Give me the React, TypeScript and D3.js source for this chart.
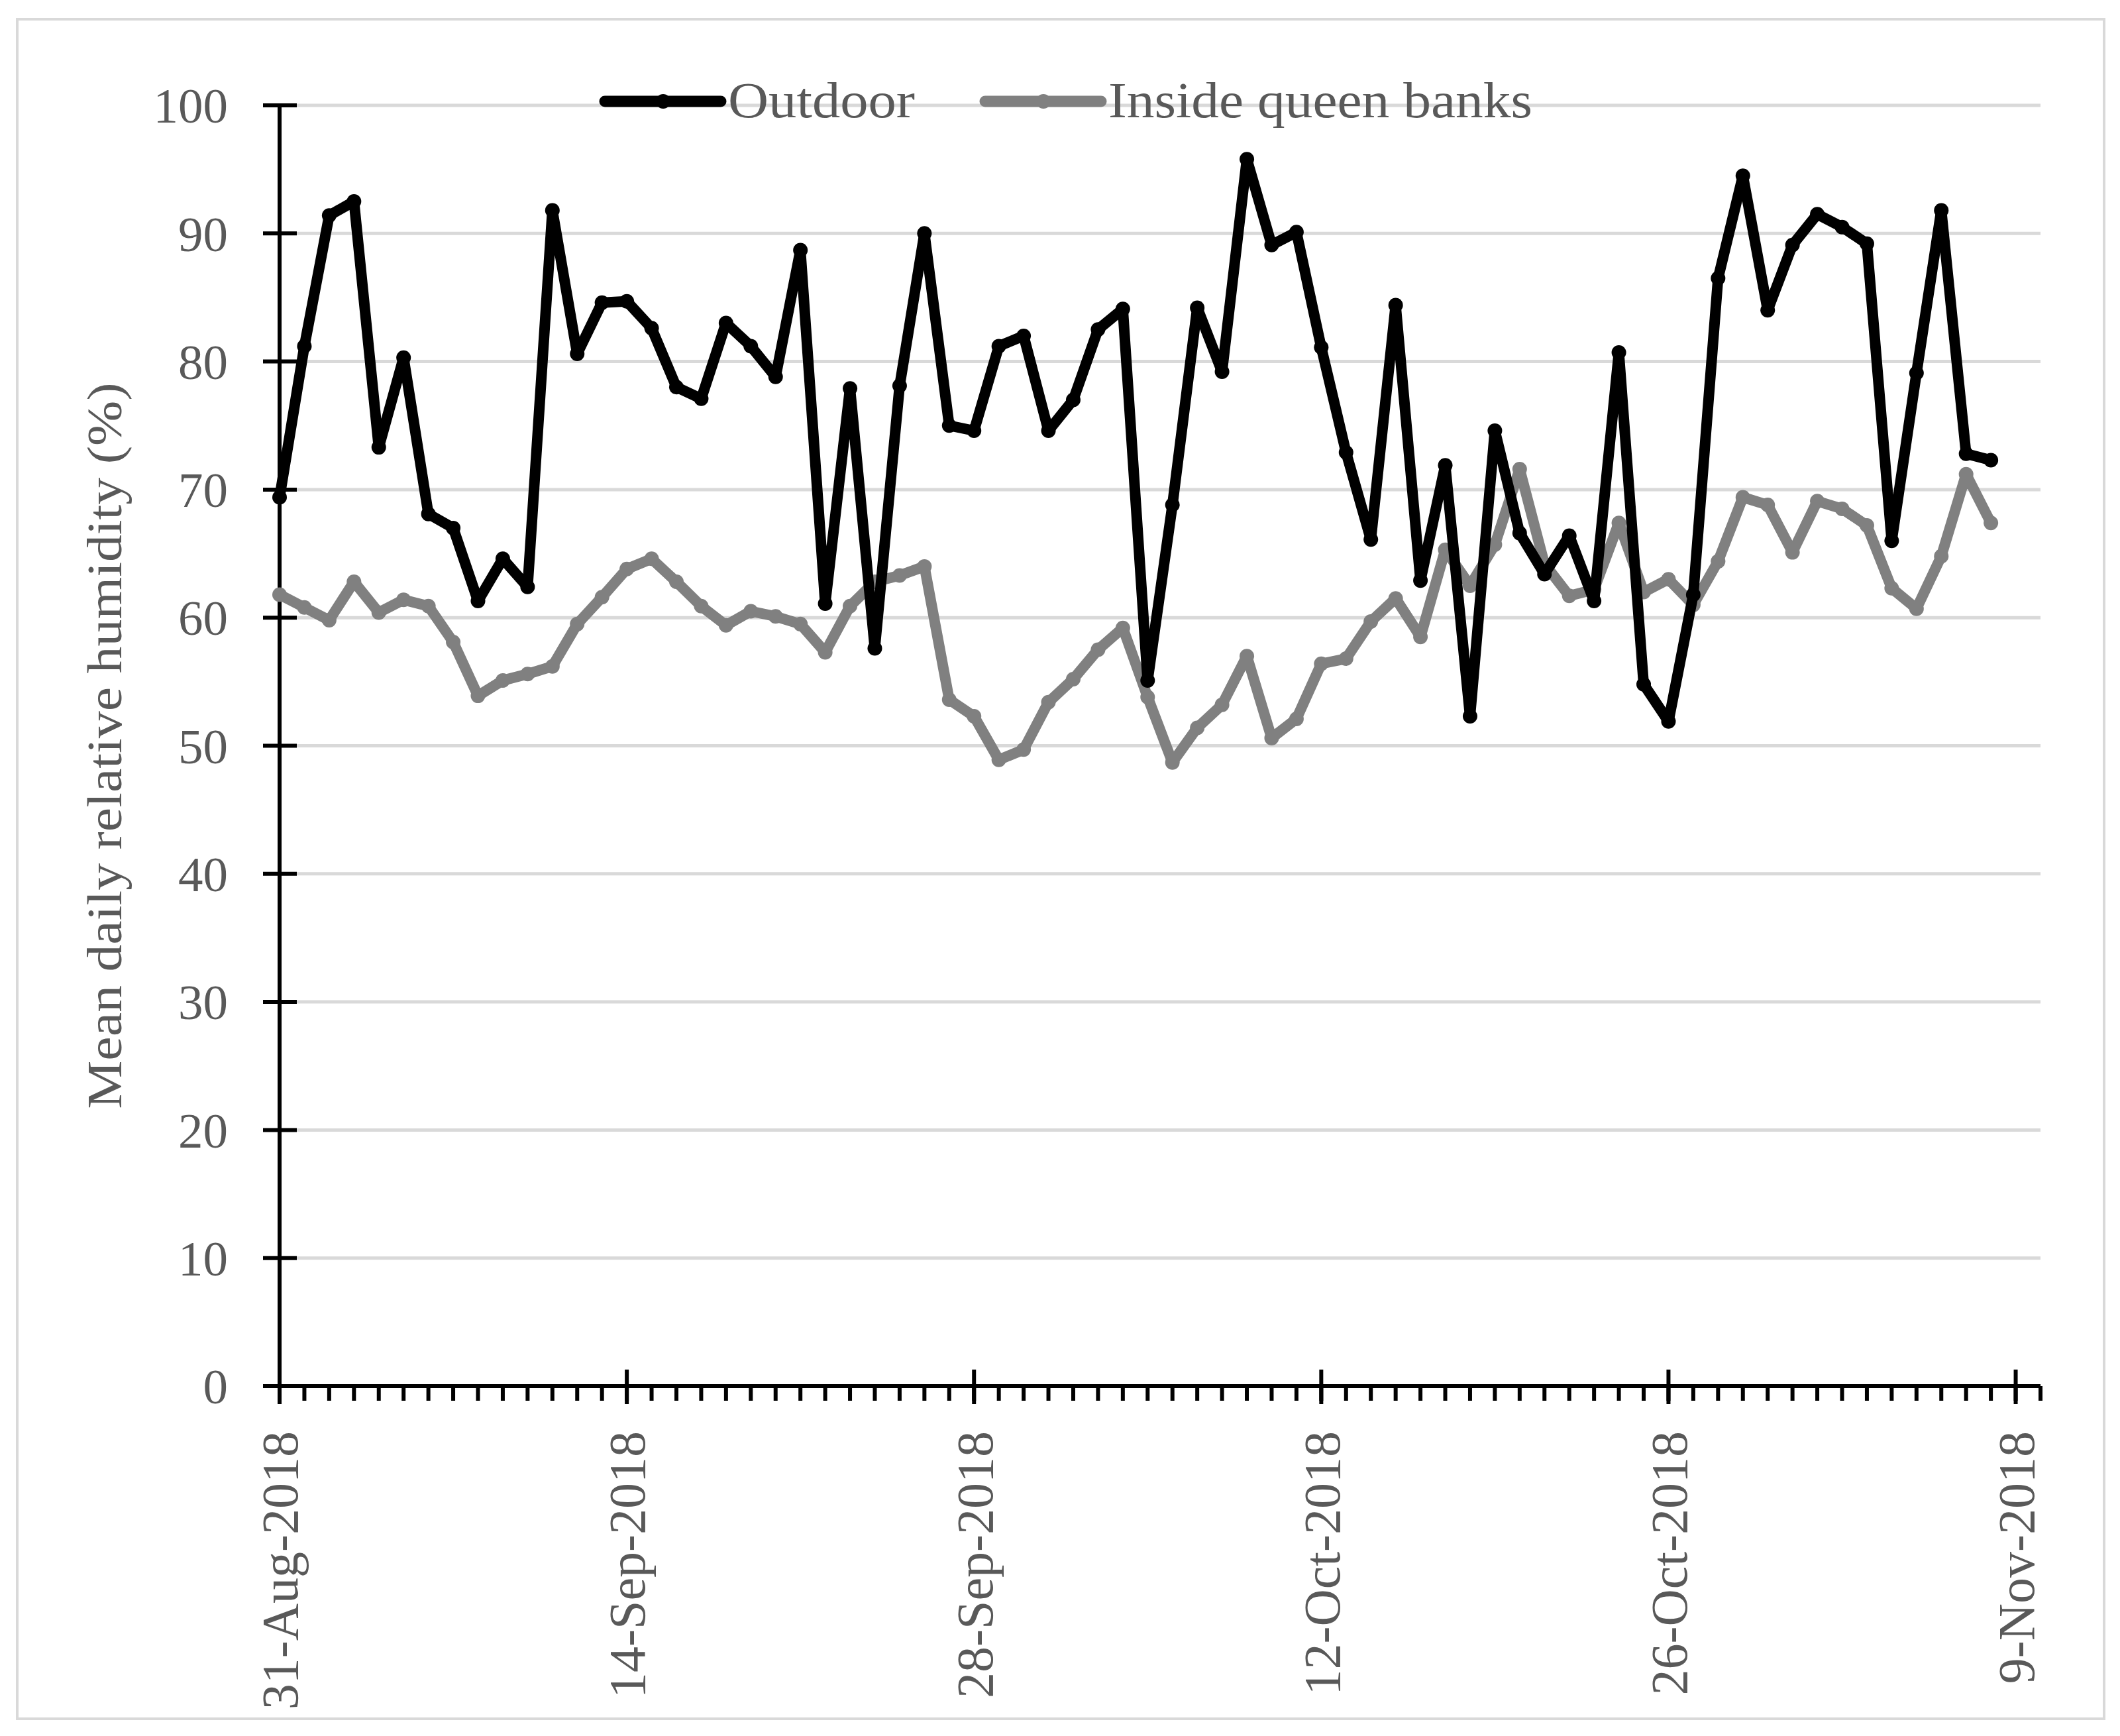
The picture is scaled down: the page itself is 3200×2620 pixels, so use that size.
import React, { useEffect, useMemo } from 'react';
import * as d3 from 'd3';

// daily means, starting 31-Aug-2018
const startDate = '2018-08-31';
const outdoor = [
  69.4, 81.2, 91.4, 92.5, 73.3, 80.3, 68.1, 67.0, 61.3, 64.6,
  62.4, 91.8, 80.6, 84.6, 84.7, 82.6, 78.0, 77.1, 83.0, 81.2,
  78.8, 88.7, 61.1, 77.9, 57.6, 78.1, 90.0, 75.0, 74.6, 81.2,
  82.0, 74.6, 77.0, 82.5, 84.1, 55.1, 68.8, 84.2, 79.2, 95.8,
  89.1, 90.1, 81.1, 72.9, 66.1, 84.4, 62.9, 71.9, 52.3, 74.6,
  66.6, 63.4, 66.4, 61.3, 80.7, 54.8, 51.9, 61.8, 86.5, 94.5,
  84.0, 89.1, 91.5, 90.5, 89.2, 66.0, 79.1, 91.8, 72.8, 72.3,
];
const insideBanks = [
  61.8, 60.8, 59.8, 62.8, 60.4, 61.4, 60.9, 58.1, 53.9, 55.1,
  55.6, 56.2, 59.5, 61.6, 63.8, 64.6, 62.8, 60.9, 59.4, 60.5,
  60.1, 59.5, 57.3, 60.9, 62.8, 63.3, 64.0, 53.6, 52.3, 48.9,
  49.7, 53.4, 55.2, 57.5, 59.2, 53.8, 48.7, 51.4, 53.2, 57.0,
  50.6, 52.1, 56.4, 56.8, 59.7, 61.5, 58.5, 65.3, 62.5, 65.7,
  71.6, 64.2, 61.7, 62.2, 67.4, 62.0, 63.0, 61.0, 64.4, 69.4,
  68.8, 65.1, 69.1, 68.5, 67.2, 62.3, 60.7, 64.8, 71.2, 67.4,
];
const xTickLabels = ['31-Aug-2018', '14-Sep-2018', '28-Sep-2018', '12-Oct-2018', '26-Oct-2018', '9-Nov-2018'];
const yTicks = [0, 10, 20, 30, 40, 50, 60, 70, 80, 90, 100];
const axisEnd = '2018-11-10';

const W = 3200;
const H = 2620;
const textColor = '#595959';
const gridColor = '#d9d9d9';
const font = '"Liberation Serif", "Times New Roman", serif';

const series = [
  { name: 'Outdoor', values: outdoor, color: '#000000' },
  { name: 'Inside queen banks', values: insideBanks, color: '#808080' },
];

export default function App() {
  useEffect(() => {
    document.body.style.margin = '0';
  }, []);

  const parseIso = d3.timeParse('%Y-%m-%d');
  const parseLabel = d3.timeParse('%d-%b-%Y');
  const t0 = parseIso(startDate)!;

  const x = useMemo(
    () => d3.scaleTime().domain([t0, parseIso(axisEnd)!]).range([422, 3080]),
    []
  );
  const y = d3.scaleLinear().domain([0, 100]).range([2092, 159]);

  const days = d3.timeDay.range(t0, parseIso(axisEnd)!);
  days.push(parseIso(axisEnd)!);
  const majors = xTickLabels.map(s => parseLabel(s)!);

  const line = d3.line<number>()
    .x((_, i) => x(d3.timeDay.offset(t0, i)))
    .y(d => y(d));

  const [x0, x1] = x.range();

  return (
    <svg width={W} height={H} style={{ display: 'block', background: '#fff' }} fontFamily={font}>
      <rect x={26} y={29} width={3150} height={2565} fill="#fff" stroke={gridColor} strokeWidth={4} />

      {/* gridlines */}
      {yTicks.filter(v => v > 0).map(v => (
        <line key={'g' + v} x1={x0} x2={x1} y1={y(v)} y2={y(v)} stroke={gridColor} strokeWidth={5} />
      ))}

      {/* y axis */}
      <line x1={x0} x2={x0} y1={y(100)} y2={y(0)} stroke="#000" strokeWidth={6} />
      {yTicks.map(v => (
        <g key={'yt' + v}>
          <line x1={x0 - 25} x2={x0 + 26} y1={y(v)} y2={y(v)} stroke="#000" strokeWidth={6} />
          <text x={344} y={y(v)} dy="0.35em" textAnchor="end" fontSize={75} fill={textColor}>{v}</text>
        </g>
      ))}
      <text
        transform={`translate(183, ${(y(0) + y(100)) / 2}) rotate(-90)`}
        textAnchor="middle"
        fontSize={74}
        fill={textColor}
        textLength={1096}
        lengthAdjust="spacingAndGlyphs"
      >
        Mean daily relative humidity (%)
      </text>

      {/* x axis */}
      <line x1={x0 - 25} x2={x1} y1={y(0)} y2={y(0)} stroke="#000" strokeWidth={6} />
      {days.map((d, i) => (
        <line key={'mt' + i} x1={x(d)} x2={x(d)} y1={y(0)} y2={y(0) + 22} stroke="#000" strokeWidth={6} />
      ))}
      {majors.map((d, i) => (
        <g key={'xt' + i}>
          <line x1={x(d)} x2={x(d)} y1={y(0) - 25} y2={y(0) + 27} stroke="#000" strokeWidth={6} />
          <text
            transform={`translate(${x(d)}, 2160) rotate(-90)`}
            dy="0.35em"
            textAnchor="end"
            fontSize={78}
            fill={textColor}
          >
            {xTickLabels[i]}
          </text>
        </g>
      ))}

      {/* series: inside first, outdoor on top */}
      {[...series].reverse().map(s => (
        <g key={s.name}>
          <path d={line(s.values)!} fill="none" stroke={s.color} strokeWidth={16} strokeLinejoin="round" strokeLinecap="round" />
          {s.values.map((v, i) => (
            <circle key={i} cx={x(d3.timeDay.offset(t0, i))} cy={y(v)} r={11} fill={s.color} />
          ))}
        </g>
      ))}

      {/* legend */}
      {series.map((s, i) => {
        const lx = i === 0 ? 913 : 1487;
        const tl = i === 0 ? 282 : 640;
        return (
          <g key={'lg' + i}>
            <line x1={lx} x2={lx + 175} y1={153} y2={153} stroke={s.color} strokeWidth={17} strokeLinecap="round" />
            <circle cx={lx + 88} cy={153} r={11} fill={s.color} />
            <text x={lx + 186} y={177} fontSize={76} fill={textColor} textLength={tl} lengthAdjust="spacingAndGlyphs">
              {s.name}
            </text>
          </g>
        );
      })}
    </svg>
  );
}
